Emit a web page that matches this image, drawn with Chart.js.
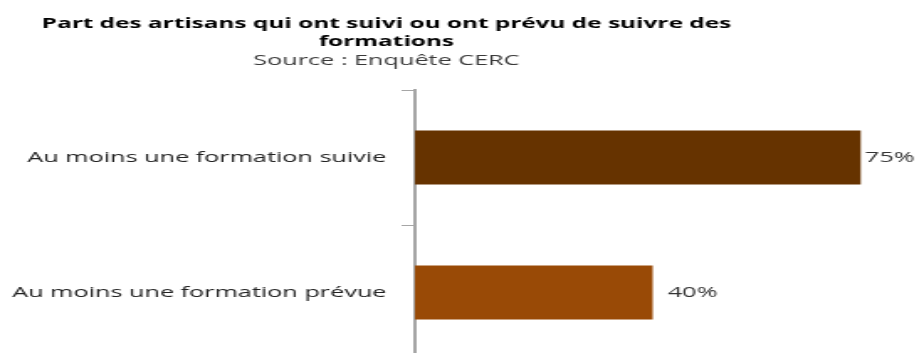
<!DOCTYPE html>
<html lang="fr">
<head>
<meta charset="utf-8">
<title>Formations des artisans</title>
<script src="https://cdn.jsdelivr.net/npm/chart.js@4.4.1/dist/chart.umd.min.js"></script>
<style>
  html, body { margin: 0; padding: 0; background: #fff; overflow: hidden; }
  /* le graphique est dessiné étroit puis étiré en largeur */
  #wrap { width: 545px; height: 378px; transform: scaleX(1.68); transform-origin: 0 0; }
</style>
</head>
<body>
<div id="wrap"><canvas id="chart" width="545" height="378"></canvas></div>
<script>
const categories = ["Au moins une formation suivie", "Au moins une formation prévue"];
const parts = [75, 40];
const titleLines = ["Part des artisans qui ont suivi ou ont prévu de suivre des", "formations"];
const sourceLine = "Source : Enquête CERC";
const barColors = ["#663300", "#994a06"];

// titre + source, centrés au-dessus du graphique
const titrePlugin = {
  id: "titre",
  afterDraw(chart) {
    const ctx = chart.ctx;
    ctx.save();
    ctx.textAlign = "center";
    ctx.textBaseline = "middle";
    ctx.fillStyle = "#000";
    ctx.font = "bold 14.5px 'Open Sans'";
    ctx.fillText(titleLines[0], 230, 24);
    ctx.fillText(titleLines[1], 230, 42);
    ctx.fillStyle = "#3a3a3a";
    ctx.font = "15px 'Open Sans'";
    ctx.fillText(sourceLine, 230, 61);
    ctx.restore();
  },
};

// pourcentages à droite des barres
const valeursPlugin = {
  id: "valeurs",
  afterDatasetsDraw(chart) {
    const ctx = chart.ctx;
    const meta = chart.getDatasetMeta(0);
    const ecarts = [2.5, 9];
    ctx.save();
    ctx.textAlign = "left";
    ctx.textBaseline = "middle";
    ctx.fillStyle = "#333";
    ctx.font = "15px 'Open Sans'";
    meta.data.forEach((bar, i) => {
      ctx.fillText(parts[i] + "%", bar.x + ecarts[i], bar.y);
    });
    ctx.restore();
  },
};

new Chart(document.getElementById("chart"), {
  type: "bar",
  data: {
    labels: categories,
    datasets: [
      {
        data: parts,
        backgroundColor: barColors,
        barPercentage: 0.4,
        categoryPercentage: 1,
      },
    ],
  },
  options: {
    indexAxis: "y",
    responsive: false,
    animation: false,
    layout: {
      padding: { top: 90, right: 15, bottom: 2, left: 0 },
    },
    plugins: {
      legend: { display: false },
      tooltip: { enabled: false },
    },
    scales: {
      x: {
        display: false,
        min: 0,
        max: 80,
      },
      y: {
        grid: {
          offset: true,
          drawOnChartArea: false,
          drawTicks: true,
          tickLength: 8,
          color: "#a6a6a6",
          lineWidth: 1,
        },
        border: { color: "#a6a6a6", width: 2 },
        ticks: {
          color: "#222",
          padding: 9,
          font: { family: "'Open Sans'", size: 15 },
        },
        afterFit(scale) {
          scale.width = 247;
        },
      },
    },
  },
  plugins: [titrePlugin, valeursPlugin],
});
</script>
</body>
</html>
